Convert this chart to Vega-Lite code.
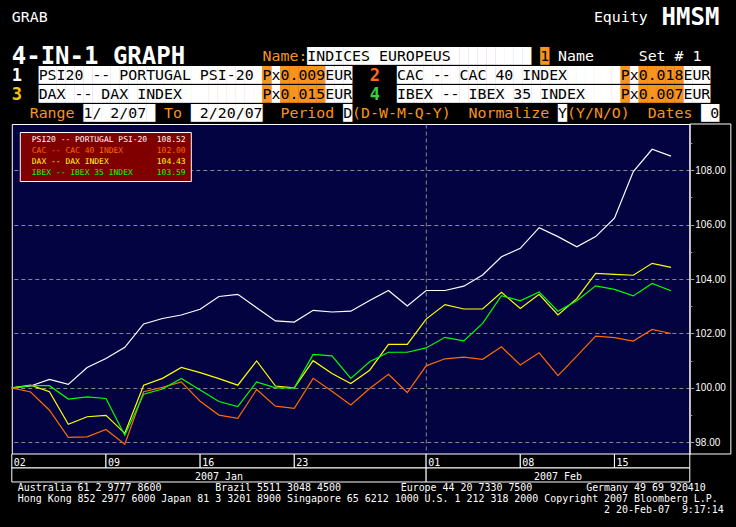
{
  "$schema": "https://vega.github.io/schema/vega-lite/v6.json",
  "background": "#000000",
  "padding": {"left": 8.8, "top": 0, "right": 10, "bottom": 0},
  "bounds": "flush",
  "spacing": 0,
  "config": {"view": {"stroke": null}},
  "resolve": {"scale": {"color": "independent"}},
  "vconcat": [
    {
      "width": 718,
      "height": 124,
      "data": {"values": [
        {"line": "A", "kind": "plain", "text": "GRAB\u00a0\u00a0\u00a0\u00a0\u00a0\u00a0\u00a0\u00a0\u00a0\u00a0\u00a0\u00a0\u00a0\u00a0\u00a0\u00a0\u00a0\u00a0\u00a0\u00a0\u00a0\u00a0\u00a0\u00a0\u00a0\u00a0\u00a0\u00a0\u00a0\u00a0\u00a0\u00a0\u00a0\u00a0\u00a0\u00a0\u00a0\u00a0\u00a0\u00a0\u00a0\u00a0\u00a0\u00a0\u00a0\u00a0\u00a0\u00a0\u00a0\u00a0\u00a0\u00a0\u00a0\u00a0\u00a0\u00a0\u00a0\u00a0\u00a0\u00a0\u00a0Equity"},
        {"line": "A", "kind": "big", "text": "\u200b\u00a0\u00a0\u00a0\u00a0\u00a0\u00a0\u00a0\u00a0\u00a0\u00a0\u00a0\u00a0\u00a0\u00a0\u00a0\u00a0\u00a0\u00a0\u00a0\u00a0\u00a0\u00a0\u00a0\u00a0\u00a0\u00a0\u00a0\u00a0\u00a0\u00a0\u00a0\u00a0\u00a0\u00a0\u00a0\u00a0\u00a0\u00a0\u00a0\u00a0\u00a0\u00a0\u00a0\u00a0\u00a0HMSM"},
        {"line": "B", "kind": "big", "text": "4-IN-1 GRAPH"},
        {"line": "B", "kind": "box", "text": "\u200b\u00a0\u00a0\u00a0\u00a0\u00a0\u00a0\u00a0\u00a0\u00a0\u00a0\u00a0\u00a0\u00a0\u00a0\u00a0\u00a0\u00a0\u00a0\u00a0\u00a0\u00a0\u00a0\u00a0\u00a0\u00a0\u00a0\u00a0\u00a0\u00a0\u00a0\u00a0\u00a0\u00a0█████████████████████████"},
        {"line": "B", "kind": "obox", "text": "\u200b\u00a0\u00a0\u00a0\u00a0\u00a0\u00a0\u00a0\u00a0\u00a0\u00a0\u00a0\u00a0\u00a0\u00a0\u00a0\u00a0\u00a0\u00a0\u00a0\u00a0\u00a0\u00a0\u00a0\u00a0\u00a0\u00a0\u00a0\u00a0\u00a0\u00a0\u00a0\u00a0\u00a0\u00a0\u00a0\u00a0\u00a0\u00a0\u00a0\u00a0\u00a0\u00a0\u00a0\u00a0\u00a0\u00a0\u00a0\u00a0\u00a0\u00a0\u00a0\u00a0\u00a0\u00a0\u00a0\u00a0\u00a0\u00a0\u00a0█"},
        {"line": "B", "kind": "label", "text": "\u200b\u00a0\u00a0\u00a0\u00a0\u00a0\u00a0\u00a0\u00a0\u00a0\u00a0\u00a0\u00a0\u00a0\u00a0\u00a0\u00a0\u00a0\u00a0\u00a0\u00a0\u00a0\u00a0\u00a0\u00a0\u00a0\u00a0\u00a0\u00a0Name:"},
        {"line": "B", "kind": "ink", "text": "\u200b\u00a0\u00a0\u00a0\u00a0\u00a0\u00a0\u00a0\u00a0\u00a0\u00a0\u00a0\u00a0\u00a0\u00a0\u00a0\u00a0\u00a0\u00a0\u00a0\u00a0\u00a0\u00a0\u00a0\u00a0\u00a0\u00a0\u00a0\u00a0\u00a0\u00a0\u00a0\u00a0\u00a0INDICES EUROPEUS\u00a0\u00a0\u00a0\u00a0\u00a0\u00a0\u00a0\u00a0\u00a0\u00a01"},
        {"line": "B", "kind": "plain", "text": "\u200b\u00a0\u00a0\u00a0\u00a0\u00a0\u00a0\u00a0\u00a0\u00a0\u00a0\u00a0\u00a0\u00a0\u00a0\u00a0\u00a0\u00a0\u00a0\u00a0\u00a0\u00a0\u00a0\u00a0\u00a0\u00a0\u00a0\u00a0\u00a0\u00a0\u00a0\u00a0\u00a0\u00a0\u00a0\u00a0\u00a0\u00a0\u00a0\u00a0\u00a0\u00a0\u00a0\u00a0\u00a0\u00a0\u00a0\u00a0\u00a0\u00a0\u00a0\u00a0\u00a0\u00a0\u00a0\u00a0\u00a0\u00a0\u00a0\u00a0\u00a0\u00a0Name\u00a0\u00a0\u00a0\u00a0\u00a0Set # 1"},
        {"line": "R1", "kind": "box", "text": "\u200b\u00a0\u00a0\u00a0█████████████████████████\u00a0█\u00a0\u00a0\u00a0\u00a0\u00a0███\u00a0\u00a0\u00a0\u00a0\u00a0█████████████████████████\u00a0█\u00a0\u00a0\u00a0\u00a0\u00a0███"},
        {"line": "R1", "kind": "obox", "text": "\u200b\u00a0\u00a0\u00a0\u00a0\u00a0\u00a0\u00a0\u00a0\u00a0\u00a0\u00a0\u00a0\u00a0\u00a0\u00a0\u00a0\u00a0\u00a0\u00a0\u00a0\u00a0\u00a0\u00a0\u00a0\u00a0\u00a0\u00a0\u00a0█\u00a0█████\u00a0\u00a0\u00a0\u00a0\u00a0\u00a0\u00a0\u00a0\u00a0\u00a0\u00a0\u00a0\u00a0\u00a0\u00a0\u00a0\u00a0\u00a0\u00a0\u00a0\u00a0\u00a0\u00a0\u00a0\u00a0\u00a0\u00a0\u00a0\u00a0\u00a0\u00a0\u00a0\u00a0█\u00a0█████"},
        {"line": "R1", "kind": "ink", "text": "\u200b\u00a0\u00a0\u00a0PSI20 -- PORTUGAL PSI-20 Px0.009EUR\u00a0\u00a0\u00a0\u00a0\u00a0CAC -- CAC 40 INDEX\u00a0\u00a0\u00a0\u00a0\u00a0\u00a0Px0.018EUR"},
        {"line": "R1", "kind": "n1", "text": "1"},
        {"line": "R1", "kind": "n2", "text": "\u200b\u00a0\u00a0\u00a0\u00a0\u00a0\u00a0\u00a0\u00a0\u00a0\u00a0\u00a0\u00a0\u00a0\u00a0\u00a0\u00a0\u00a0\u00a0\u00a0\u00a0\u00a0\u00a0\u00a0\u00a0\u00a0\u00a0\u00a0\u00a0\u00a0\u00a0\u00a0\u00a0\u00a0\u00a0\u00a02"},
        {"line": "R2", "kind": "box", "text": "\u200b\u00a0\u00a0\u00a0█████████████████████████\u00a0█\u00a0\u00a0\u00a0\u00a0\u00a0███\u00a0\u00a0\u00a0\u00a0\u00a0█████████████████████████\u00a0█\u00a0\u00a0\u00a0\u00a0\u00a0███"},
        {"line": "R2", "kind": "obox", "text": "\u200b\u00a0\u00a0\u00a0\u00a0\u00a0\u00a0\u00a0\u00a0\u00a0\u00a0\u00a0\u00a0\u00a0\u00a0\u00a0\u00a0\u00a0\u00a0\u00a0\u00a0\u00a0\u00a0\u00a0\u00a0\u00a0\u00a0\u00a0\u00a0█\u00a0█████\u00a0\u00a0\u00a0\u00a0\u00a0\u00a0\u00a0\u00a0\u00a0\u00a0\u00a0\u00a0\u00a0\u00a0\u00a0\u00a0\u00a0\u00a0\u00a0\u00a0\u00a0\u00a0\u00a0\u00a0\u00a0\u00a0\u00a0\u00a0\u00a0\u00a0\u00a0\u00a0\u00a0█\u00a0█████"},
        {"line": "R2", "kind": "ink", "text": "\u200b\u00a0\u00a0\u00a0DAX -- DAX INDEX\u00a0\u00a0\u00a0\u00a0\u00a0\u00a0\u00a0\u00a0\u00a0Px0.015EUR\u00a0\u00a0\u00a0\u00a0\u00a0IBEX -- IBEX 35 INDEX\u00a0\u00a0\u00a0\u00a0Px0.007EUR"},
        {"line": "R2", "kind": "n3", "text": "3"},
        {"line": "R2", "kind": "n4", "text": "\u200b\u00a0\u00a0\u00a0\u00a0\u00a0\u00a0\u00a0\u00a0\u00a0\u00a0\u00a0\u00a0\u00a0\u00a0\u00a0\u00a0\u00a0\u00a0\u00a0\u00a0\u00a0\u00a0\u00a0\u00a0\u00a0\u00a0\u00a0\u00a0\u00a0\u00a0\u00a0\u00a0\u00a0\u00a0\u00a04"},
        {"line": "R3", "kind": "box", "text": "\u200b\u00a0\u00a0\u00a0\u00a0\u00a0\u00a0\u00a0\u00a0████████\u00a0\u00a0\u00a0\u00a0████████\u00a0\u00a0\u00a0\u00a0\u00a0\u00a0\u00a0\u00a0\u00a0█\u00a0\u00a0\u00a0\u00a0\u00a0\u00a0\u00a0\u00a0\u00a0\u00a0\u00a0\u00a0\u00a0\u00a0\u00a0\u00a0\u00a0\u00a0\u00a0\u00a0\u00a0\u00a0\u00a0█\u00a0\u00a0\u00a0\u00a0\u00a0\u00a0\u00a0\u00a0\u00a0\u00a0\u00a0\u00a0\u00a0\u00a0\u00a0██"},
        {"line": "R3", "kind": "label", "text": "\u200b\u00a0\u00a0Range\u00a0\u00a0\u00a0\u00a0\u00a0\u00a0\u00a0\u00a0\u00a0\u00a0To\u00a0\u00a0\u00a0\u00a0\u00a0\u00a0\u00a0\u00a0\u00a0\u00a0\u00a0Period\u00a0\u00a0(D-W-M-Q-Y)\u00a0\u00a0Normalize\u00a0\u00a0(Y/N/O)\u00a0\u00a0Dates"},
        {"line": "R3", "kind": "ink", "text": "\u200b\u00a0\u00a0\u00a0\u00a0\u00a0\u00a0\u00a0\u00a01/ 2/07\u00a0\u00a0\u00a0\u00a0\u00a0\u00a02/20/07\u00a0\u00a0\u00a0\u00a0\u00a0\u00a0\u00a0\u00a0\u00a0D\u00a0\u00a0\u00a0\u00a0\u00a0\u00a0\u00a0\u00a0\u00a0\u00a0\u00a0\u00a0\u00a0\u00a0\u00a0\u00a0\u00a0\u00a0\u00a0\u00a0\u00a0\u00a0\u00a0Y\u00a0\u00a0\u00a0\u00a0\u00a0\u00a0\u00a0\u00a0\u00a0\u00a0\u00a0\u00a0\u00a0\u00a0\u00a0\u00a00"}
      ]},
      "encoding": {
        "x": {"datum": 0, "type": "quantitative", "scale": {"domain": [0, 1]}, "axis": null},
        "y": {"field": "line", "type": "nominal", "scale": {"type": "point", "domain": ["A", "X", "B", "R1", "R2", "R3"], "padding": 0.736, "align": 0.652}, "axis": null},
        "text": {"field": "text"},
        "color": {"field": "kind", "type": "nominal", "scale": {"domain": ["box", "obox", "ink", "label", "plain", "big", "n1", "n2", "n3", "n4"], "range": ["#ffffff", "#f7941d", "#000000", "#f7941d", "#ffffff", "#ffffff", "#ffffff", "#ff6a13", "#f2c511", "#3ccf3c"]}, "legend": null}
      },
      "layer": [
        {"transform": [{"filter": {"field": "kind", "oneOf": ["box", "obox"]}}], "mark": {"type": "text", "font": "DejaVu Sans Mono", "fontSize": 14.9, "align": "left", "baseline": "middle"}},
        {"transform": [{"filter": {"field": "kind", "oneOf": ["ink", "label", "plain"]}}], "mark": {"type": "text", "font": "DejaVu Sans Mono", "fontSize": 14.9, "align": "left", "baseline": "middle"}},
        {"transform": [{"filter": {"field": "kind", "equal": "big"}}], "mark": {"type": "text", "font": "DejaVu Sans Mono", "fontSize": 24, "fontWeight": "bold", "align": "left", "baseline": "middle"}},
        {"transform": [{"filter": {"field": "kind", "oneOf": ["n1", "n2", "n3", "n4"]}}], "mark": {"type": "text", "font": "DejaVu Sans Mono", "fontSize": 17, "fontWeight": "bold", "align": "left", "baseline": "middle"}}
      ]
    },
    {
      "width": 678,
      "height": 330,
      "view": {"fill": "#020340", "stroke": "#ffffff", "strokeWidth": 1},
      "layer": [
        {
          "data": {"values": [
            {"series": "PSI20", "day": 0, "value": 100.00}, {"series": "PSI20", "day": 1, "value": 100.07}, {"series": "PSI20", "day": 2, "value": 100.31}, {"series": "PSI20", "day": 3, "value": 100.13}, {"series": "PSI20", "day": 4, "value": 100.75}, {"series": "PSI20", "day": 5, "value": 101.08}, {"series": "PSI20", "day": 6, "value": 101.49}, {"series": "PSI20", "day": 7, "value": 102.35}, {"series": "PSI20", "day": 8, "value": 102.55}, {"series": "PSI20", "day": 9, "value": 102.68}, {"series": "PSI20", "day": 10, "value": 102.89}, {"series": "PSI20", "day": 11, "value": 103.36}, {"series": "PSI20", "day": 12, "value": 103.44}, {"series": "PSI20", "day": 13, "value": 102.95}, {"series": "PSI20", "day": 14, "value": 102.46}, {"series": "PSI20", "day": 15, "value": 102.42}, {"series": "PSI20", "day": 16, "value": 102.85}, {"series": "PSI20", "day": 17, "value": 102.79}, {"series": "PSI20", "day": 18, "value": 102.82}, {"series": "PSI20", "day": 19, "value": 103.21}, {"series": "PSI20", "day": 20, "value": 103.58}, {"series": "PSI20", "day": 21, "value": 103.01}, {"series": "PSI20", "day": 22, "value": 103.58}, {"series": "PSI20", "day": 23, "value": 103.58}, {"series": "PSI20", "day": 24, "value": 103.74}, {"series": "PSI20", "day": 25, "value": 104.15}, {"series": "PSI20", "day": 26, "value": 104.82}, {"series": "PSI20", "day": 27, "value": 105.13}, {"series": "PSI20", "day": 28, "value": 105.89}, {"series": "PSI20", "day": 29, "value": 105.56}, {"series": "PSI20", "day": 30, "value": 105.19}, {"series": "PSI20", "day": 31, "value": 105.56}, {"series": "PSI20", "day": 32, "value": 106.24}, {"series": "PSI20", "day": 33, "value": 107.95}, {"series": "PSI20", "day": 34, "value": 108.77}, {"series": "PSI20", "day": 35, "value": 108.52},
            {"series": "CAC", "day": 0, "value": 100.00}, {"series": "CAC", "day": 1, "value": 99.85}, {"series": "CAC", "day": 2, "value": 99.18}, {"series": "CAC", "day": 3, "value": 98.18}, {"series": "CAC", "day": 4, "value": 98.20}, {"series": "CAC", "day": 5, "value": 98.47}, {"series": "CAC", "day": 6, "value": 97.93}, {"series": "CAC", "day": 7, "value": 99.86}, {"series": "CAC", "day": 8, "value": 100.02}, {"series": "CAC", "day": 9, "value": 100.22}, {"series": "CAC", "day": 10, "value": 99.51}, {"series": "CAC", "day": 11, "value": 99.00}, {"series": "CAC", "day": 12, "value": 98.88}, {"series": "CAC", "day": 13, "value": 99.94}, {"series": "CAC", "day": 14, "value": 99.33}, {"series": "CAC", "day": 15, "value": 99.25}, {"series": "CAC", "day": 16, "value": 100.35}, {"series": "CAC", "day": 17, "value": 99.88}, {"series": "CAC", "day": 18, "value": 99.37}, {"series": "CAC", "day": 19, "value": 99.98}, {"series": "CAC", "day": 20, "value": 100.50}, {"series": "CAC", "day": 21, "value": 99.83}, {"series": "CAC", "day": 22, "value": 100.81}, {"series": "CAC", "day": 23, "value": 101.07}, {"series": "CAC", "day": 24, "value": 101.13}, {"series": "CAC", "day": 25, "value": 101.05}, {"series": "CAC", "day": 26, "value": 101.51}, {"series": "CAC", "day": 27, "value": 100.84}, {"series": "CAC", "day": 28, "value": 101.29}, {"series": "CAC", "day": 29, "value": 100.45}, {"series": "CAC", "day": 30, "value": 101.17}, {"series": "CAC", "day": 31, "value": 101.90}, {"series": "CAC", "day": 32, "value": 101.85}, {"series": "CAC", "day": 33, "value": 101.72}, {"series": "CAC", "day": 34, "value": 102.15}, {"series": "CAC", "day": 35, "value": 102.00},
            {"series": "DAX", "day": 0, "value": 100.00}, {"series": "DAX", "day": 1, "value": 100.10}, {"series": "DAX", "day": 2, "value": 99.86}, {"series": "DAX", "day": 3, "value": 98.66}, {"series": "DAX", "day": 4, "value": 98.94}, {"series": "DAX", "day": 5, "value": 98.99}, {"series": "DAX", "day": 6, "value": 98.33}, {"series": "DAX", "day": 7, "value": 100.10}, {"series": "DAX", "day": 8, "value": 100.35}, {"series": "DAX", "day": 9, "value": 100.75}, {"series": "DAX", "day": 10, "value": 100.56}, {"series": "DAX", "day": 11, "value": 100.34}, {"series": "DAX", "day": 12, "value": 100.10}, {"series": "DAX", "day": 13, "value": 100.99}, {"series": "DAX", "day": 14, "value": 100.07}, {"series": "DAX", "day": 15, "value": 100.00}, {"series": "DAX", "day": 16, "value": 101.00}, {"series": "DAX", "day": 17, "value": 100.53}, {"series": "DAX", "day": 18, "value": 100.16}, {"series": "DAX", "day": 19, "value": 100.65}, {"series": "DAX", "day": 20, "value": 101.60}, {"series": "DAX", "day": 21, "value": 101.60}, {"series": "DAX", "day": 22, "value": 102.53}, {"series": "DAX", "day": 23, "value": 103.06}, {"series": "DAX", "day": 24, "value": 102.90}, {"series": "DAX", "day": 25, "value": 102.90}, {"series": "DAX", "day": 26, "value": 103.51}, {"series": "DAX", "day": 27, "value": 102.92}, {"series": "DAX", "day": 28, "value": 103.44}, {"series": "DAX", "day": 29, "value": 102.68}, {"series": "DAX", "day": 30, "value": 103.28}, {"series": "DAX", "day": 31, "value": 104.21}, {"series": "DAX", "day": 32, "value": 104.17}, {"series": "DAX", "day": 33, "value": 104.14}, {"series": "DAX", "day": 34, "value": 104.58}, {"series": "DAX", "day": 35, "value": 104.43},
            {"series": "IBEX", "day": 0, "value": 100.00}, {"series": "IBEX", "day": 1, "value": 100.08}, {"series": "IBEX", "day": 2, "value": 100.08}, {"series": "IBEX", "day": 3, "value": 99.59}, {"series": "IBEX", "day": 4, "value": 99.67}, {"series": "IBEX", "day": 5, "value": 99.61}, {"series": "IBEX", "day": 6, "value": 98.26}, {"series": "IBEX", "day": 7, "value": 99.77}, {"series": "IBEX", "day": 8, "value": 99.96}, {"series": "IBEX", "day": 9, "value": 100.35}, {"series": "IBEX", "day": 10, "value": 99.92}, {"series": "IBEX", "day": 11, "value": 99.50}, {"series": "IBEX", "day": 12, "value": 99.31}, {"series": "IBEX", "day": 13, "value": 100.22}, {"series": "IBEX", "day": 14, "value": 100.00}, {"series": "IBEX", "day": 15, "value": 100.00}, {"series": "IBEX", "day": 16, "value": 101.23}, {"series": "IBEX", "day": 17, "value": 101.18}, {"series": "IBEX", "day": 18, "value": 100.35}, {"series": "IBEX", "day": 19, "value": 100.96}, {"series": "IBEX", "day": 20, "value": 101.31}, {"series": "IBEX", "day": 21, "value": 101.31}, {"series": "IBEX", "day": 22, "value": 101.47}, {"series": "IBEX", "day": 23, "value": 101.86}, {"series": "IBEX", "day": 24, "value": 101.73}, {"series": "IBEX", "day": 25, "value": 102.37}, {"series": "IBEX", "day": 26, "value": 103.39}, {"series": "IBEX", "day": 27, "value": 103.20}, {"series": "IBEX", "day": 28, "value": 103.53}, {"series": "IBEX", "day": 29, "value": 102.82}, {"series": "IBEX", "day": 30, "value": 103.20}, {"series": "IBEX", "day": 31, "value": 103.75}, {"series": "IBEX", "day": 32, "value": 103.62}, {"series": "IBEX", "day": 33, "value": 103.38}, {"series": "IBEX", "day": 34, "value": 103.84}, {"series": "IBEX", "day": 35, "value": 103.57}
          ]},
          "mark": {"type": "line", "strokeWidth": 1.2},
          "encoding": {
            "x": {"field": "day", "type": "quantitative", "scale": {"domain": [0, 36], "nice": false, "zero": false}, "axis": {"values": [22], "labels": false, "ticks": false, "domain": false, "grid": true, "gridColor": "#8a8a8a", "gridDash": [4, 3], "title": null}},
            "y": {"field": "value", "type": "quantitative", "scale": {"domain": [97.57, 109.7], "nice": false, "zero": false},
              "axis": {
                "orient": "right", "title": null,
                "values": [98, 99, 100, 101, 102, 103, 104, 105, 106, 107, 108, 109],
                "labelExpr": "datum.value % 2 === 0 ? format(datum.value, '.2f') : ''",
                "labelFont": "Liberation Sans", "labelFontSize": 10, "labelColor": "#ffffff", "labelPadding": 1,
                "tickColor": "#a0a0a0",
                "tickSize": {"condition": {"test": "datum.value % 2 === 0", "value": 4}, "value": 2},
                "domainColor": "#909090",
                "grid": true, "gridColor": "#8a8a8a", "gridDash": [4, 3],
                "gridOpacity": {"condition": {"test": "datum.value % 2 === 0", "value": 1}, "value": 0}
              }
            },
            "color": {"field": "series", "type": "nominal",
              "scale": {"domain": ["PSI20", "CAC", "DAX", "IBEX"], "range": ["#ffffff", "#ff6a00", "#ffff00", "#00ff00"]},
              "legend": {
                "title": null, "orient": "top-left", "offset": 8, "padding": 4,
                "fillColor": "#800000", "strokeColor": "#ffffff",
                "symbolSize": 0, "symbolOpacity": 0, "symbolStrokeWidth": 0, "labelOffset": 0,
                "labelFont": "DejaVu Sans Mono", "labelFontSize": 8, "rowPadding": 3, "labelLimit": 300,
                "labelExpr": "datum.value == 'PSI20' ? 'PSI20 -- PORTUGAL PSI-20\u00a0\u00a0108.52' : datum.value == 'CAC' ? 'CAC -- CAC 40 INDEX\u00a0\u00a0\u00a0\u00a0\u00a0\u00a0\u00a0102.00' : datum.value == 'DAX' ? 'DAX -- DAX INDEX\u00a0\u00a0\u00a0\u00a0\u00a0\u00a0\u00a0\u00a0\u00a0\u00a0104.43' : 'IBEX -- IBEX 35 INDEX\u00a0\u00a0\u00a0\u00a0\u00a0103.59'",
                "labelColor": {"expr": "datum.value == 'PSI20' ? '#ffffff' : datum.value == 'CAC' ? '#ff6a00' : datum.value == 'DAX' ? '#ffff00' : '#00ff00'"}
              }
            }
          }
        },
        {
          "data": {"values": [{}]},
          "mark": {"type": "rect", "fill": "#000000", "fillOpacity": 0, "stroke": "#ffffff", "strokeWidth": 1},
          "encoding": {"x": {"datum": 36, "type": "quantitative"}, "x2": {"datum": 38.18}}
        }
      ]
    },
    {
      "width": 678,
      "height": 28,
      "data": {"values": [
        {"label": "02", "start": 0, "end": 5, "mid": 2.5, "row": "day"},
        {"label": "09", "start": 5, "end": 10, "mid": 7.5, "row": "day"},
        {"label": "16", "start": 10, "end": 15, "mid": 12.5, "row": "day"},
        {"label": "23", "start": 15, "end": 22, "mid": 18.5, "row": "day"},
        {"label": "01", "start": 22, "end": 27, "mid": 24.5, "row": "day"},
        {"label": "08", "start": 27, "end": 32, "mid": 29.5, "row": "day"},
        {"label": "15", "start": 32, "end": 36, "mid": 34, "row": "day"},
        {"label": "2007 Jan", "start": 0, "end": 22, "mid": 11, "row": "month"},
        {"label": "2007 Feb", "start": 22, "end": 36, "mid": 29, "row": "month"}
      ]},
      "encoding": {
        "y": {"field": "row", "type": "nominal", "scale": {"domain": ["day", "month"], "paddingInner": 0, "paddingOuter": 0}, "axis": null}
      },
      "layer": [
        {"mark": {"type": "rect", "fill": "#000000", "stroke": "#ffffff", "strokeWidth": 1},
         "encoding": {"x": {"field": "start", "type": "quantitative", "scale": {"domain": [0, 36], "nice": false, "zero": false}, "axis": null}, "x2": {"field": "end"}}},
        {"transform": [{"filter": {"field": "row", "equal": "day"}}],
         "mark": {"type": "text", "align": "left", "dx": 2, "dy": 2, "font": "DejaVu Sans Mono", "fontSize": 10, "color": "#ffffff", "baseline": "middle"},
         "encoding": {"x": {"field": "start", "type": "quantitative"}, "text": {"field": "label"}}},
        {"transform": [{"filter": {"field": "row", "equal": "month"}}],
         "mark": {"type": "text", "align": "center", "dy": 2, "font": "DejaVu Sans Mono", "fontSize": 10, "color": "#ffffff", "baseline": "middle"},
         "encoding": {"x": {"field": "mid", "type": "quantitative"}, "text": {"field": "label"}}}
      ]
    },
    {
      "width": 718,
      "height": 45,
      "data": {"values": [
        {"line": "L1", "text": "\u200b\u00a0Australia 61 2 9777 8600\u00a0\u00a0\u00a0\u00a0\u00a0\u00a0\u00a0\u00a0\u00a0Brazil 5511 3048 4500\u00a0\u00a0\u00a0\u00a0\u00a0\u00a0\u00a0\u00a0\u00a0\u00a0Europe 44 20 7330 7500\u00a0\u00a0\u00a0\u00a0\u00a0\u00a0\u00a0\u00a0\u00a0Germany 49 69 920410"},
        {"line": "L2", "text": "\u200b\u00a0Hong Kong 852 2977 6000 Japan 81 3 3201 8900 Singapore 65 6212 1000 U.S. 1 212 318 2000 Copyright 2007 Bloomberg L.P."},
        {"line": "L3", "text": "\u200b\u00a0\u00a0\u00a0\u00a0\u00a0\u00a0\u00a0\u00a0\u00a0\u00a0\u00a0\u00a0\u00a0\u00a0\u00a0\u00a0\u00a0\u00a0\u00a0\u00a0\u00a0\u00a0\u00a0\u00a0\u00a0\u00a0\u00a0\u00a0\u00a0\u00a0\u00a0\u00a0\u00a0\u00a0\u00a0\u00a0\u00a0\u00a0\u00a0\u00a0\u00a0\u00a0\u00a0\u00a0\u00a0\u00a0\u00a0\u00a0\u00a0\u00a0\u00a0\u00a0\u00a0\u00a0\u00a0\u00a0\u00a0\u00a0\u00a0\u00a0\u00a0\u00a0\u00a0\u00a0\u00a0\u00a0\u00a0\u00a0\u00a0\u00a0\u00a0\u00a0\u00a0\u00a0\u00a0\u00a0\u00a0\u00a0\u00a0\u00a0\u00a0\u00a0\u00a0\u00a0\u00a0\u00a0\u00a0\u00a0\u00a0\u00a0\u00a0\u00a0\u00a0\u00a0\u00a0\u00a0\u00a0\u00a0\u00a02 20-Feb-07\u00a0\u00a09:17:14"}
      ]},
      "mark": {"type": "text", "font": "DejaVu Sans Mono", "fontSize": 9.95, "color": "#ffffff", "align": "left", "baseline": "middle"},
      "encoding": {
        "x": {"datum": 0, "type": "quantitative", "scale": {"domain": [0, 1]}, "axis": null},
        "y": {"field": "line", "type": "nominal", "scale": {"type": "point", "domain": ["L1", "L2", "L3"], "padding": 1.25, "align": 0.252}, "axis": null},
        "text": {"field": "text"}
      }
    }
  ]
}
